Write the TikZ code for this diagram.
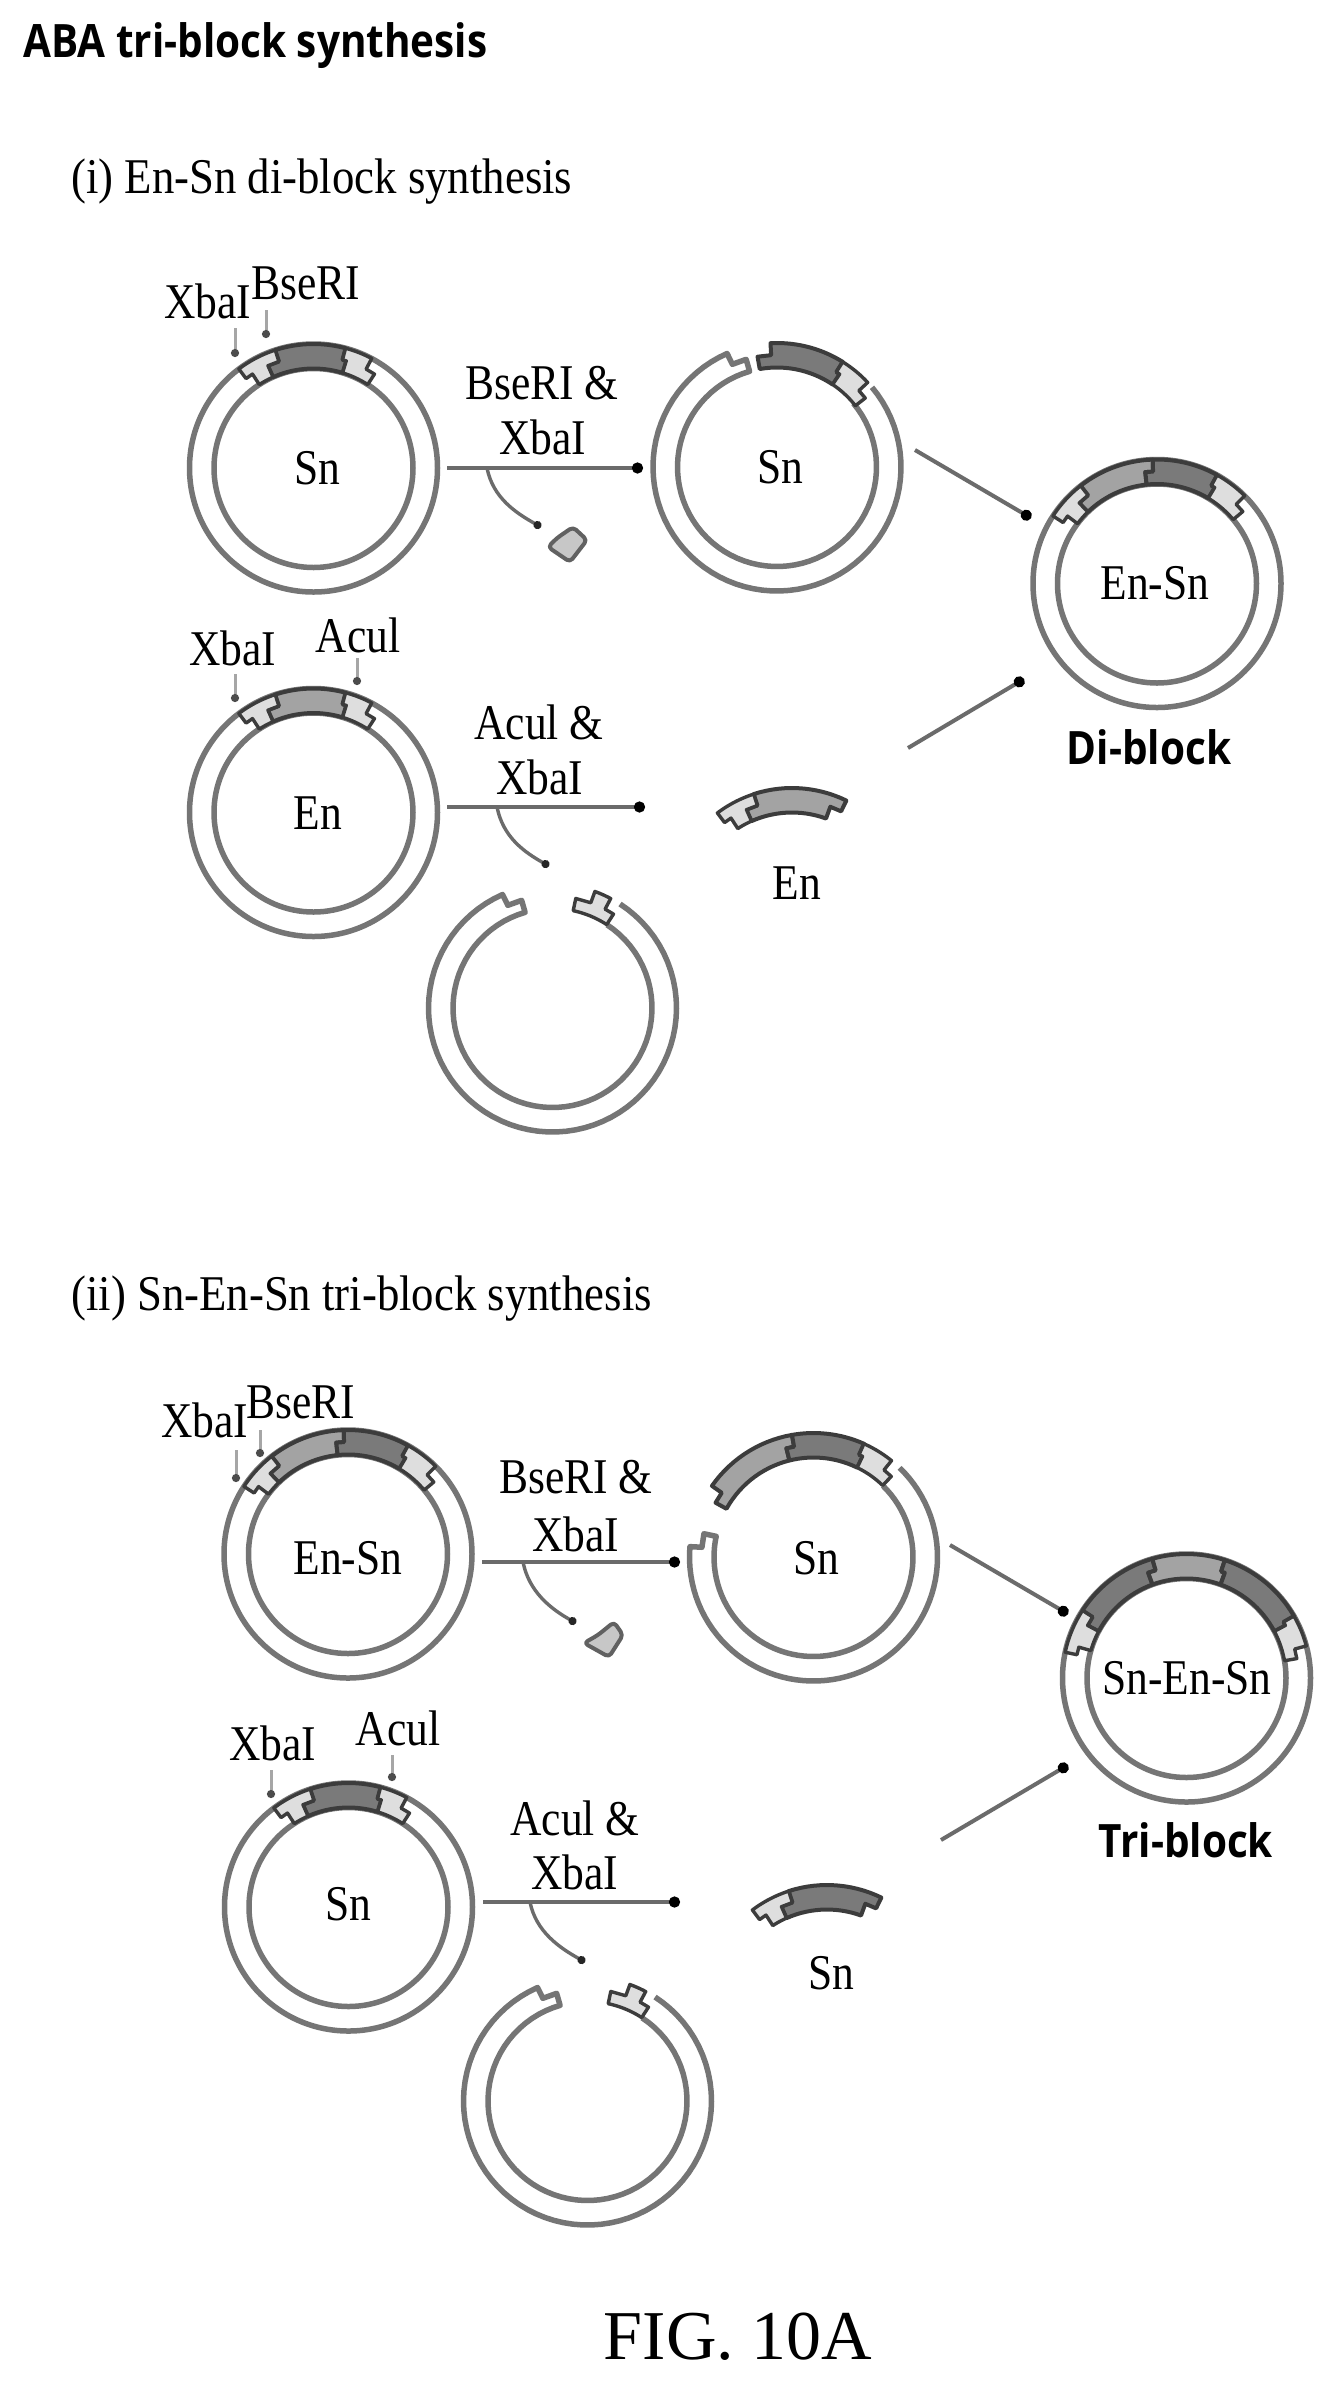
\documentclass[tikz,border=0pt]{standalone}
\usepackage{fontspec}
\setmainfont{Liberation Serif}[FakeStretch=.87]
\newfontfamily\headfont{Liberation Serif}[FakeStretch=.895]
\newfontfamily\figfont{Liberation Serif}
\newfontfamily\blockfont{Open Sans}[FakeStretch=.88,BoldFont={Open Sans Bold},BoldFeatures={FakeStretch=.88}]
\usetikzlibrary{arrows.meta}
\definecolor{ringgray}{HTML}{757575}
\definecolor{edgegray}{HTML}{3C3C3C}
\def\Rout{124}\def\Rin{99.5}\def\Rmid{112}
% segment of the band between the two rings; the ends are stepped
\newcommand\segm[7]{\draw[#7] plot[domain=0:1,samples=16] ({#1+\Rin*cos(#3+(#5-#3)*\x)},{#2-\Rin*sin(#3+(#5-#3)*\x)}) -- ({#1+\Rmid*cos(#5)},{#2-\Rmid*sin(#5)}) -- ({#1+\Rmid*cos(#5+#6)},{#2-\Rmid*sin(#5+#6)}) -- plot[domain=0:1,samples=16] ({#1+\Rout*cos((#5+#6)+((#3+#4)-(#5+#6))*\x)},{#2-\Rout*sin((#5+#6)+((#3+#4)-(#5+#6))*\x)}) -- ({#1+\Rmid*cos(#3+#4)},{#2-\Rmid*sin(#3+#4)}) -- ({#1+\Rmid*cos(#3)},{#2-\Rmid*sin(#3)}) -- cycle;}
% opened ring: from angle #3 clockwise to the stepped end at #4
\newcommand\cutarm[5]{\draw[armline] plot[domain=0:1,samples=70] ({#1+\Rout*cos(#3+(#4+#5-360-#3)*\x)},{#2-\Rout*sin(#3+(#4+#5-360-#3)*\x)}) -- ({#1+\Rmid*cos(#4+#5)},{#2-\Rmid*sin(#4+#5)}) -- ({#1+\Rmid*cos(#4)},{#2-\Rmid*sin(#4)}) -- plot[domain=0:1,samples=70] ({#1+\Rin*cos(#4-360+(#3-#4+360)*\x)},{#2-\Rin*sin(#4-360+(#3-#4+360)*\x)});}
\newcommand\plasmid[2]{\segm{#1}{#2}{114}{-6}{123}{4}{stick}\segm{#1}{#2}{57}{5}{73}{2}{stick}}
\tikzset{
 outerring/.style={circle,draw=ringgray,line width=2.75pt,minimum size=124pt,inner sep=0pt,outer sep=0pt},
 innerring/.style={circle,draw=ringgray,line width=2.75pt,minimum size=99.5pt,inner sep=0pt,outer sep=0pt},
 armline/.style={draw=ringgray,line width=2.75pt,line join=round},
 stick/.style={fill=black!13,draw=edgegray,line width=1.7pt,line join=round},
 darkband/.style={fill=black!52,draw=edgegray,line width=2pt,line join=round},
 lightband/.style={fill=black!36,draw=edgegray,line width=2pt,line join=round},
 lbl/.style={inner sep=0pt,font=\fontsize{25}{30}\selectfont},
 headlbl/.style={inner sep=0pt,anchor=west,font=\headfont\fontsize{25}{30}\selectfont},
 boldlbl/.style={inner sep=0pt,font=\blockfont\bfseries\fontsize{23}{28}\selectfont},
 conn/.style={draw=black!58,line width=2pt,-{Circle[length=5.5pt,black]}},
 curl/.style={draw=black!58,line width=1.7pt,-{Circle[length=4pt,black!85]}},
 site/.style={draw=black!35,line width=1.5pt,-{Circle[length=4pt,black!70]}},
 piece/.style={fill=black!22,draw=black!62,line width=2pt,line join=round,rounded corners=2pt},
}
\begin{document}
\begin{tikzpicture}[x=.5pt,y=-.5pt]
\useasboundingbox (0,0) rectangle (1336,2384);
\fill[white] (0,0) rectangle (1336,2384);
% headings
\node[boldlbl,anchor=west] (title) at (23,46) {ABA tri-block synthesis};
\node[headlbl] (head1) at (71,182) {(i) En-Sn di-block synthesis};
\node[headlbl] (head2) at (71,1299) {(ii) Sn-En-Sn tri-block synthesis};
\node[inner sep=0pt,font=\figfont\fontsize{35}{40}\selectfont] (fig) at (738,2337) {FIG. 10A};
%
% ---------- (i) row 1: Sn
\node[outerring] (r1o) at (313.5,468) {}; \node[innerring] (r1i) at (313.5,468) {};
\segm{313.5}{468}{73}{2}{114}{-6}{darkband}\plasmid{313.5}{468}
\node[lbl] (r1t) at (317,468) {Sn};
\node[lbl] (r1x) at (208,301) {XbaI};
\node[lbl] (r1b) at (306,283) {BseRI};
\coordinate (s1a) at (235,328); \coordinate (s1b) at (235,357);
\coordinate (s2a) at (266,310); \coordinate (s2b) at (266,338);
\draw[site] (s1a) -- (s1b); \draw[site] (s2a) -- (s2b);
\node[lbl] (a1l1) at (542,383) {BseRI \&};
\node[lbl] (a1l2) at (543,437) {XbaI};
\coordinate (a1s) at (447,468); \coordinate (a1e) at (643,468);
\draw[conn] (a1s) -- (a1e);
\coordinate (c1s) at (487,468); \coordinate (c1e) at (541,527);
\draw[curl] (c1s) .. controls +(6,30) and +(-25,-14) .. (c1e);
\draw[piece] (573,527) -- (587,540) -- (570,562) -- (548,547) -- (557,538) -- cycle;
%
% cut Sn
\cutarm{777}{467}{40}{106}{7.5}
\segm{777}{467}{56}{2}{100}{-7}{darkband}
\segm{777}{467}{38}{5}{56}{2}{stick}
\node[lbl] (r2t) at (780,467) {Sn};
%
% En-Sn product
\node[outerring] (r3o) at (1157,583.5) {}; \node[innerring] (r3i) at (1157,583.5) {};
\segm{1157}{583.5}{96}{-4}{134}{-6}{lightband}
\segm{1157}{583.5}{59}{2}{96}{-4}{darkband}
\segm{1157}{583.5}{134}{-6}{143}{4}{stick}
\segm{1157}{583.5}{40}{5}{59}{2}{stick}
\node[lbl] (r3t) at (1155,583) {En-Sn};
\node[boldlbl] (diblock) at (1149,747) {Di-block};
\coordinate (d1s) at (915,450); \coordinate (d1e) at (1031,518);
\draw[conn] (d1s) -- (d1e);
\coordinate (d2s) at (908,748); \coordinate (d2e) at (1024,679);
\draw[conn] (d2s) -- (d2e);
%
% ---------- (i) row 2: En
\node[outerring] (r4o) at (313.5,812.5) {}; \node[innerring] (r4i) at (313.5,812.5) {};
\segm{313.5}{812.5}{73}{2}{114}{-6}{lightband}\plasmid{313.5}{812.5}
\node[lbl] (r4t) at (318,813) {En};
\node[lbl] (r4x) at (233,648) {XbaI};
\node[lbl] (r4a) at (358,635) {Acul};
\coordinate (s3a) at (235,674); \coordinate (s3b) at (235,702);
\coordinate (s4a) at (357,658); \coordinate (s4b) at (357,685);
\draw[site] (s3a) -- (s3b); \draw[site] (s4a) -- (s4b);
\node[lbl] (a2l1) at (539,722) {Acul \&};
\node[lbl] (a2l2) at (540,777) {XbaI};
\coordinate (a2s) at (447,807); \coordinate (a2e) at (645,807);
\draw[conn] (a2s) -- (a2e);
\coordinate (c2s) at (497,807); \coordinate (c2e) at (549,866);
\draw[curl] (c2s) .. controls +(6,30) and +(-25,-14) .. (c2e);
% cut backbone
\cutarm{552.5}{1008}{57}{106}{7.5}
\segm{552.5}{1008}{57}{5}{78}{-8}{stick}
% En fragment
\segm{792}{912}{70}{-6}{114}{-6}{lightband}
\segm{792}{912}{114}{-6}{123}{4}{stick}
\node[lbl] (r5t) at (797,883) {En};
%
% ---------- (ii) row 1: En-Sn
\node[outerring] (r6o) at (348,1554) {}; \node[innerring] (r6i) at (348,1554) {};
\segm{348}{1554}{96}{-4}{134}{-6}{lightband}
\segm{348}{1554}{59}{2}{96}{-4}{darkband}
\segm{348}{1554}{134}{-6}{143}{4}{stick}
\segm{348}{1554}{40}{5}{59}{2}{stick}
\node[lbl] (r6t) at (348,1558) {En-Sn};
\node[lbl] (r6x) at (205,1420) {XbaI};
\node[lbl] (r6b) at (301,1402) {BseRI};
\coordinate (s5a) at (236,1450); \coordinate (s5b) at (236,1482);
\coordinate (s6a) at (260,1430); \coordinate (s6b) at (260,1457);
\draw[site] (s5a) -- (s5b); \draw[site] (s6a) -- (s6b);
\node[lbl] (a3l1) at (576,1477) {BseRI \&};
\node[lbl] (a3l2) at (576,1534) {XbaI};
\coordinate (a3s) at (482,1562); \coordinate (a3e) at (680,1562);
\draw[conn] (a3s) -- (a3e);
\coordinate (c3s) at (523,1562); \coordinate (c3e) at (576,1623);
\draw[curl] (c3s) .. controls +(6,30) and +(-25,-14) .. (c3e);
\draw[piece] (614,1622) -- (623,1635) -- (609,1657) -- (584,1643) -- (598,1635) -- cycle;
%
% cut En-Sn
\cutarm{813.5}{1557}{46}{168}{7}
\segm{813.5}{1557}{104}{-4}{151}{-6}{lightband}
\segm{813.5}{1557}{64}{2}{104}{-4}{darkband}
\segm{813.5}{1557}{46}{5}{64}{2}{stick}
\node[lbl] (r7t) at (816,1558) {Sn};
%
% Tri-block product
\node[outerring] (r8o) at (1186.5,1678) {}; \node[innerring] (r8i) at (1186.5,1678) {};
\segm{1186.5}{1678}{110}{-4}{152}{-5}{darkband}
\segm{1186.5}{1678}{70}{2}{110}{-4}{lightband}
\segm{1186.5}{1678}{28}{2}{70}{2}{darkband}
\segm{1186.5}{1678}{152}{-5}{164}{4}{stick}
\segm{1186.5}{1678}{10}{5}{28}{2}{stick}
\node[lbl] (r8t) at (1187,1678) {Sn-En-Sn};
\node[boldlbl] (triblock) at (1186,1840) {Tri-block};
\coordinate (d3s) at (950,1545); \coordinate (d3e) at (1068,1614);
\draw[conn] (d3s) -- (d3e);
\coordinate (d4s) at (941,1840); \coordinate (d4e) at (1068,1765);
\draw[conn] (d4s) -- (d4e);
%
% ---------- (ii) row 2: Sn
\node[outerring] (r9o) at (348.5,1907) {}; \node[innerring] (r9i) at (348.5,1907) {};
\segm{348.5}{1907}{73}{2}{114}{-6}{darkband}\plasmid{348.5}{1907}
\node[lbl] (r9t) at (348,1904) {Sn};
\node[lbl] (r9x) at (273,1743) {XbaI};
\node[lbl] (r9a) at (398,1728) {Acul};
\coordinate (s7a) at (271,1770); \coordinate (s7b) at (271,1798);
\coordinate (s8a) at (392,1755); \coordinate (s8b) at (392,1781);
\draw[site] (s7a) -- (s7b); \draw[site] (s8a) -- (s8b);
\node[lbl] (a4l1) at (575,1818) {Acul \&};
\node[lbl] (a4l2) at (575,1872) {XbaI};
\coordinate (a4s) at (483,1902); \coordinate (a4e) at (680,1902);
\draw[conn] (a4s) -- (a4e);
\coordinate (c4s) at (530,1902); \coordinate (c4e) at (585,1962);
\draw[curl] (c4s) .. controls +(6,30) and +(-25,-14) .. (c4e);
% cut backbone
\cutarm{587.5}{2101}{57}{106}{7.5}
\segm{587.5}{2101}{57}{5}{78}{-8}{stick}
% Sn fragment
\segm{827}{2009}{70}{-6}{114}{-6}{darkband}
\segm{827}{2009}{114}{-6}{123}{4}{stick}
\node[lbl] (r10t) at (831,1973) {Sn};
\end{tikzpicture}
\end{document}
